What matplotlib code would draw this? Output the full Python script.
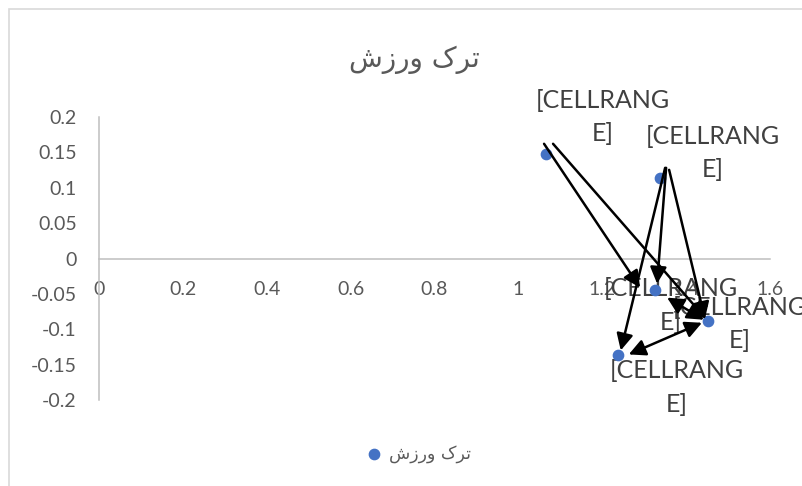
import matplotlib.pyplot as plt
import matplotlib.transforms as mtransforms
from matplotlib.patches import Rectangle

# Data
title = 'ترک ورزش'
x_vals = [1.066, 1.338, 1.326, 1.452, 1.237]
y_vals = [0.148, 0.114, -0.044, -0.088, -0.137]
label_text = '[CELLRANG\nE]'
x_ticks = [0, 0.2, 0.4, 0.6, 0.8, 1, 1.2, 1.4, 1.6]
x_tick_labels = ['0', '0.2', '0.4', '0.6', '0.8', '1', '1.2', '1.4', '1.6']
y_ticks = [-0.2, -0.15, -0.1, -0.05, 0, 0.05, 0.1, 0.15, 0.2]
y_tick_labels = ['-0.2', '-0.15', '-0.1', '-0.05', '0', '0.05', '0.1', '0.15', '0.2']

# label offsets (pixels) from each point, and the stray leader arrows
label_offsets = [(57, 37), (53, 25), (16, -16), (32, -3), (59, -32)]
# (src point, src offset px, dst point, dst offset px, style)
arrows = [
    (0, (-2, 10), 2, (-15, 2), '-|>'),
    (0, (7, 10), 3, (-2, 2), '-|>'),
    (1, (5, 10), 4, (3, 5), '-|>'),
    (1, (6, 10), 2, (2, 6), '-|>'),
    (1, (9, 8), 3, (-3, 2), '-|>'),
    (2, (12, -8), 3, (-4, 1), '<|-|>'),
    (4, (11, 1), 3, (-6, -2), '<|-|>'),
]


def shape_rtl(text):
    # minimal Arabic/Persian shaping: pick contextual forms, then reverse
    forms = {
        'ت': ('\uFE95', '\uFE96', '\uFE97', '\uFE98'),
        'ر': ('\uFEAD', '\uFEAE', None, None),
        'ک': ('\uFB8E', '\uFB8F', '\uFB90', '\uFB91'),
        'و': ('\uFEED', '\uFEEE', None, None),
        'ز': ('\uFEAF', '\uFEB0', None, None),
        'ش': ('\uFEB5', '\uFEB6', '\uFEB7', '\uFEB8'),
    }
    out = []
    for i, ch in enumerate(text):
        if ch not in forms:
            out.append(ch)
            continue
        prev = text[i - 1] if i > 0 else ''
        nxt = text[i + 1] if i + 1 < len(text) else ''
        jp = prev in forms and forms[prev][2] is not None
        jn = forms[ch][2] is not None and nxt in forms
        f = forms[ch]
        if jp and jn:
            out.append(f[3])
        elif jp:
            out.append(f[1])
        elif jn:
            out.append(f[2])
        else:
            out.append(f[0])
    return ''.join(out)[::-1]


plt.rcParams['font.family'] = ['Lato', 'DejaVu Sans']
txt_color = '#595959'
blue = '#4472C4'

fig = plt.figure(figsize=(8.02, 4.86), dpi=100)
W, H = 802, 486
ax = fig.add_axes([99 / W, 1 - 400 / H, (770 - 99) / W, (400 - 117) / H])

# chart area border (only top/left visible in the crop)
fig.patches.append(Rectangle((9 / W, -0.1), 1.2, 1 - 9 / H + 0.1, transform=fig.transFigure,
                             fill=False, edgecolor='#D9D9D9', lw=1.2))

ax.scatter(x_vals, y_vals, s=55, color=blue, zorder=3, label=shape_rtl(title))

ax.set_xlim(0, 1.6)
ax.set_ylim(-0.2, 0.2)
ax.set_xticks(x_ticks, x_tick_labels)
ax.set_yticks(y_ticks, y_tick_labels)
ax.spines['top'].set_visible(False)
ax.spines['right'].set_visible(False)
ax.spines['bottom'].set_position(('data', 0))
for s in ('left', 'bottom'):
    ax.spines[s].set_color('#BFBFBF')
    ax.spines[s].set_linewidth(1.1)
ax.tick_params(axis='x', length=0, pad=16, labelsize=14, labelcolor=txt_color)
ax.tick_params(axis='y', length=0, pad=16, labelsize=14, labelcolor=txt_color)
ax.patch.set_visible(False)

# data labels
for xv, yv, (dx, dy) in zip(x_vals, y_vals, label_offsets):
    tr = mtransforms.offset_copy(ax.transData, fig, x=dx, y=dy, units='dots')
    ax.text(xv, yv, label_text, transform=tr, ha='center', va='center',
            fontsize=18, color='#404040', linespacing=1.55, zorder=2, clip_on=False)

# leader arrows
for si, so, di, do, st in arrows:
    tr_s = mtransforms.offset_copy(ax.transData, fig, x=so[0], y=so[1], units='dots')
    tr_d = mtransforms.offset_copy(ax.transData, fig, x=do[0], y=do[1], units='dots')
    ax.annotate('', xy=(x_vals[di], y_vals[di]), xycoords=tr_d,
                xytext=(x_vals[si], y_vals[si]), textcoords=tr_s,
                arrowprops=dict(arrowstyle=st, color='black', lw=1.8,
                                mutation_scale=25, shrinkA=0, shrinkB=0),
                zorder=4, annotation_clip=False)

fig.text(414 / W, 1 - 60 / H, shape_rtl(title), ha='center', va='center',
         fontsize=20, color=txt_color, family='DejaVu Sans')

fig.legend(loc='center', bbox_to_anchor=(418 / W, 1 - 454 / H), frameon=False,
           prop={'family': 'DejaVu Sans', 'size': 12.5}, labelcolor=txt_color,
           handlelength=1.0, handletextpad=0.4, markerscale=1.0)

fig.savefig('out.png', dpi=100)
